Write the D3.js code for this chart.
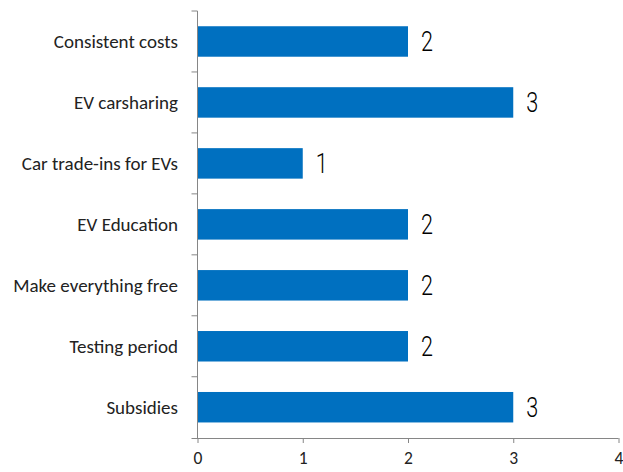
<!DOCTYPE html>
<html>
<head>
<meta charset="utf-8">
<script src="https://cdn.jsdelivr.net/npm/d3@7"></script>
<style>
  body { margin: 0; background: #fff; }
  .axis path, .axis line { stroke: #868686; }
  .axis text { fill: #222; }
</style>
</head>
<body>
<div id="chart"></div>
<script>
const categories = ['Consistent costs', 'EV carsharing', 'Car trade-ins for EVs', 'EV Education', 'Make everything free', 'Testing period', 'Subsidies'];
const values = [2, 3, 1, 2, 2, 2, 3];
const xTicks = [0, 1, 2, 3, 4];

const width = 623, height = 472;
const margin = { top: 11, right: 5, bottom: 34, left: 197.5 };

const svg = d3.select('#chart')
  .append('svg')
  .attr('width', width)
  .attr('height', height);

const x = d3.scaleLinear()
  .domain([0, 4])
  .range([margin.left, 618.5]);

const y = d3.scaleBand()
  .domain(categories)
  .range([margin.top, height - margin.bottom - 0.3])
  .paddingInner(0.5)
  .paddingOuter(0.25);

const data = categories.map((c, i) => ({ name: c, value: values[i] }));

svg.selectAll('rect.bar')
  .data(data)
  .enter()
  .append('rect')
  .attr('class', 'bar')
  .attr('x', x(0))
  .attr('y', d => y(d.name))
  .attr('width', d => x(d.value) - x(0))
  .attr('height', y.bandwidth())
  .attr('fill', '#0070c0');

// value labels, narrow light digits
svg.selectAll('text.val')
  .data(data)
  .enter()
  .append('text')
  .attr('class', 'val')
  .attr('transform', d => `translate(${x(d.value) + 13},${y(d.name) + y.bandwidth() / 2 + 9.5}) scale(0.8,1)`)
  .attr('font-family', 'Roboto, sans-serif')
  .attr('font-weight', 300)
  .attr('font-size', 27)
  .attr('fill', '#000')
  .text(d => d.value);

// x axis
const xAxis = svg.append('g')
  .attr('class', 'axis')
  .attr('transform', `translate(0,${height - margin.bottom})`)
  .call(d3.axisBottom(x).tickValues(xTicks).tickFormat(d3.format('d')).tickSize(5).tickPadding(9).tickSizeOuter(0));
xAxis.select('.domain').attr('d', `M${margin.left - 6},0.5H${x(4)}`);
xAxis.selectAll('text')
  .attr('font-family', 'Carlito, "Open Sans", sans-serif')
  .attr('font-size', 17.5);

// y axis with ticks at band boundaries
const yAxis = svg.append('g').attr('class', 'axis');
yAxis.append('line')
  .attr('x1', margin.left).attr('x2', margin.left)
  .attr('y1', margin.top).attr('y2', height - margin.bottom);
const step = y.step();
d3.range(categories.length).forEach(i => {
  yAxis.append('line')
    .attr('x1', margin.left - 6).attr('x2', margin.left)
    .attr('y1', margin.top + i * step).attr('y2', margin.top + i * step);
});

svg.selectAll('text.cat')
  .data(categories)
  .enter()
  .append('text')
  .attr('class', 'cat')
  .attr('x', 178)
  .attr('y', d => y(d) + y.bandwidth() / 2)
  .attr('dy', '0.35em')
  .attr('text-anchor', 'end')
  .attr('font-family', 'Carlito, "Open Sans", sans-serif')
  .attr('font-size', 19)
  .attr('fill', '#222')
  .text(d => d);
</script>
</body>
</html>
